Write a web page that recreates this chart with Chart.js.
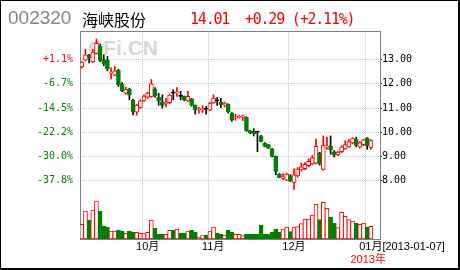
<!DOCTYPE html>
<html>
<head>
<meta charset="utf-8">
<script src="https://cdn.jsdelivr.net/npm/chart.js@4/dist/chart.umd.min.js"></script>
<style>
  html, body { margin: 0; padding: 0; background: #fff; }
  #wrap { position: relative; width: 460px; height: 270px; overflow: hidden; }
  #chart { position: absolute; left: 0; top: 0; }
  #frame { position: absolute; left: 0; top: 0; width: 460px; height: 270px; box-sizing: border-box;
           border-style: solid; border-color: #000; border-width: 1px 2px 2px 1px; pointer-events: none; }
  .txt { position: absolute; white-space: pre; line-height: 1; }
  #code { left: 8px; top: 8px; font-size: 19px; font-family: 'Liberation Sans', Arial, sans-serif; color: #7d8590; }
  #name { left: 82px; top: 11px; font-size: 16px; font-family: 'Noto Sans CJK SC', sans-serif; color: #000; }
  #quote { left: 190px; top: 12px; font-size: 15px; font-family: 'DejaVu Sans Mono', monospace; letter-spacing: -1.2px; color: #f00; }
  #mark { left: 88px; top: 37px; font-weight: bold; font-size: 21px; font-family: 'Liberation Sans', Arial, sans-serif; color: #d6d6d6; }
</style>
</head>
<body>
<div id="wrap">
  <div id="mark" class="txt">CFi.CN</div>
  <canvas id="chart" width="460" height="270"></canvas>
  <div id="code" class="txt"></div>
  <div id="name" class="txt"></div>
  <div id="quote" class="txt"></div>
  <div id="frame"></div>
</div>
<script>
// quote header
const stockCode = '002320';
const stockName = '海峡股份';
const lastPrice = '14.01';
const change = '+0.29';
const changePct = '+2.11%';

// trading days shown on the chart
const dates = [
  '2012-09-06', '2012-09-07', '2012-09-10', '2012-09-11', '2012-09-12', '2012-09-13', '2012-09-14',
  '2012-09-17', '2012-09-18', '2012-09-19', '2012-09-20', '2012-09-21', '2012-09-24', '2012-09-25',
  '2012-09-26', '2012-09-27', '2012-09-28',
  '2012-10-08', '2012-10-09', '2012-10-10', '2012-10-11', '2012-10-12', '2012-10-15', '2012-10-16',
  '2012-10-17', '2012-10-18', '2012-10-19', '2012-10-22', '2012-10-23', '2012-10-24', '2012-10-25',
  '2012-10-26', '2012-10-29', '2012-10-30', '2012-10-31',
  '2012-11-01', '2012-11-02', '2012-11-05', '2012-11-06', '2012-11-07', '2012-11-08', '2012-11-09',
  '2012-11-12', '2012-11-13', '2012-11-14', '2012-11-15', '2012-11-16', '2012-11-19', '2012-11-20',
  '2012-11-21', '2012-11-22', '2012-11-23', '2012-11-26', '2012-11-27', '2012-11-28', '2012-11-29',
  '2012-11-30',
  '2012-12-03', '2012-12-04', '2012-12-05', '2012-12-06', '2012-12-07', '2012-12-10', '2012-12-11',
  '2012-12-12', '2012-12-13', '2012-12-14', '2012-12-17', '2012-12-18', '2012-12-19', '2012-12-20',
  '2012-12-21', '2012-12-24', '2012-12-25', '2012-12-26', '2012-12-27', '2012-12-28', '2012-12-31',
  '2013-01-04', '2013-01-07'
];

const open = [
  12.70, 12.98, 13.19, 12.90, 13.26, 13.55, 13.00, 12.97, 12.45, 12.36,
  12.57, 11.98, 11.62, 11.78, 11.32, 10.83, 11.03, 11.30, 11.45, 11.47,
  11.77, 11.44, 11.26, 11.19, 11.22, 11.62, 11.63, 11.48, 11.48, 11.30,
  11.38, 11.11, 10.92, 10.94, 10.96, 10.91, 11.21, 11.30, 11.25, 11.13,
  11.16, 10.79, 10.60, 10.62, 10.63, 10.62, 10.06, 10.04, 10.01, 9.86,
  9.56, 9.49, 9.32, 9.01, 8.28, 8.10, 8.03, 8.20, 7.93, 8.20,
  8.45, 8.50, 8.62, 8.70, 8.73, 9.14, 8.47, 9.40, 9.43, 9.20,
  9.07, 9.20, 9.32, 9.40, 9.56, 9.72, 9.39, 9.49, 9.76, 9.38
];
const high = [
  12.92, 13.43, 13.22, 13.43, 13.85, 13.62, 13.20, 13.13, 12.66, 12.72,
  12.60, 12.05, 11.86, 11.82, 11.36, 11.15, 11.35, 11.55, 11.66, 12.18,
  11.85, 11.61, 11.55, 11.40, 11.58, 11.76, 11.85, 11.69, 11.50, 11.69,
  11.40, 11.13, 11.03, 11.10, 11.07, 11.24, 11.55, 11.44, 11.40, 11.25,
  11.18, 10.82, 10.75, 10.70, 10.72, 10.64, 10.08, 10.15, 10.05, 9.88,
  9.58, 9.50, 9.34, 9.03, 8.30, 8.30, 8.32, 8.25, 8.50, 8.55,
  8.74, 8.75, 8.90, 9.05, 9.72, 9.18, 9.85, 9.79, 9.85, 9.25,
  9.22, 9.45, 9.65, 9.70, 9.78, 9.80, 9.62, 9.72, 9.78, 9.70
];
const low = [
  12.65, 12.94, 12.86, 12.88, 13.24, 12.92, 12.75, 12.54, 12.20, 12.33,
  11.89, 11.68, 11.57, 11.34, 10.72, 10.71, 10.98, 11.28, 11.40, 11.45,
  11.45, 11.12, 11.00, 11.05, 11.18, 11.34, 11.48, 11.34, 11.30, 11.28,
  11.08, 10.75, 10.79, 10.82, 10.75, 10.89, 11.19, 11.11, 11.02, 11.05,
  10.80, 10.46, 10.50, 10.58, 10.48, 10.04, 9.95, 9.85, 9.20, 9.60,
  9.40, 9.33, 8.99, 8.25, 8.12, 8.05, 8.00, 7.96, 7.65, 8.15,
  8.40, 8.45, 8.58, 8.66, 8.70, 8.65, 8.44, 9.30, 9.10, 8.98,
  9.04, 9.15, 9.30, 9.38, 9.52, 9.40, 9.35, 9.45, 9.30, 9.30
];
const close = [
  12.90, 13.20, 13.09, 13.31, 13.67, 12.97, 12.82, 12.62, 12.50, 12.54,
  11.96, 11.72, 11.76, 11.55, 10.84, 11.11, 11.30, 11.50, 11.62, 12.00,
  11.50, 11.30, 11.11, 11.24, 11.54, 11.62, 11.66, 11.48, 11.34, 11.48,
  11.11, 10.93, 10.94, 10.97, 10.96, 11.21, 11.41, 11.30, 11.14, 11.20,
  10.84, 10.50, 10.63, 10.66, 10.68, 10.06, 9.97, 9.93, 10.01, 9.63,
  9.42, 9.35, 9.01, 8.39, 8.14, 8.16, 8.28, 8.00, 8.25, 8.48,
  8.58, 8.68, 8.80, 8.95, 9.42, 8.69, 9.45, 9.44, 9.28, 9.07,
  9.19, 9.40, 9.49, 9.62, 9.74, 9.46, 9.57, 9.69, 9.45, 9.66
];
// volume, relative units
const volume = [
  14.7, 28, 19, 29, 38, 28, 13, 12, 8, 8,
  9, 8, 5.7, 8, 7, 6.7, 5.7, 6, 6.7, 19,
  10.7, 4.7, 4.7, 4.7, 8.7, 8.7, 10, 6, 6, 8,
  8.7, 6.7, 2, 3.3, 4, 8, 12, 6, 4.7, 4,
  9, 6.7, 4.7, 4.7, 3.3, 4.7, 4.7, 4.7, 4.7, 14,
  4.7, 4.7, 6.7, 10, 6.7, 10, 12, 7.3, 12, 12.3,
  15.3, 20, 20, 24, 34.7, 19.3, 36.7, 30.7, 22, 16,
  11.3, 26.7, 22.7, 19.3, 18, 16, 14.7, 16, 12, 12.7
];

const priceTicks = [8, 9, 10, 11, 12, 13];
const basePrice = 12.86;   // reference price for the % scale
const priceMin = 5.6;
const priceMax = 14.18;
const volumeMax = 208;     // volume panel sits at the foot of the price panel
const emptySlots = 2;

const RED = '#ff0000';
const GREEN = '#008000';
const BLACK = '#000000';
const GRID = '#c8c8c8';
const FRAME = '#808080';
const SANS = "'Liberation Sans', 'Noto Sans CJK SC', sans-serif";
const MONO = "'DejaVu Sans Mono', monospace";

document.getElementById('code').textContent = stockCode;
document.getElementById('name').textContent = stockName;
document.getElementById('quote').textContent = lastPrice + '  ' + change + ' (' + changePct + ')';

const labels = dates.concat(Array(emptySlots).fill(''));
const dir = close.map((c, i) => Math.sign(c - open[i]));

const monthStarts = dates
    .map((d, i) => (i > 0 && d.slice(5, 7) !== dates[i - 1].slice(5, 7)) ? i : -1)
    .filter(i => i >= 0);
const yearStart = dates.findIndex((d, i) => i > 0 && d.slice(0, 4) !== dates[i - 1].slice(0, 4));
const lastDate = dates[dates.length - 1];

const monthLabel = (i) => {
    const m = dates[i].slice(5, 7) + '月';
    return i === monthStarts[monthStarts.length - 1] ? m + '[' + lastDate + ']' : m;
};
const pct = (v) => {
    const p = (v / basePrice - 1) * 100;
    return (p >= 0 ? '+' : '') + p.toFixed(1) + '%';
};
const fixWidth = (w) => (axis) => { axis.width = w; };
const fixHeight = (h) => (axis) => { axis.height = h; };
const setPriceTicks = (axis) => { axis.ticks = priceTicks.map(v => ({value: v})); };

new Chart(document.getElementById('chart').getContext('2d'), {
    type: 'bar',
    data: {
        labels: labels,
        datasets: [
            {
                label: 'body',
                data: open.map((o, i) => [o, close[i]]),
                xAxisID: 'x',
                yAxisID: 'y',
                grouped: false,
                barThickness: 4,
                minBarLength: 1,
                borderWidth: 1,
                borderSkipped: false,
                backgroundColor: dir.map(d => d > 0 ? '#ffffff' : (d < 0 ? GREEN : BLACK)),
                borderColor: dir.map(d => d > 0 ? RED : (d < 0 ? GREEN : BLACK)),
                order: 0
            },
            {
                label: 'wick',
                data: low.map((l, i) => [l, high[i]]),
                xAxisID: 'x',
                yAxisID: 'y',
                grouped: false,
                barThickness: 1,
                borderWidth: 0,
                backgroundColor: dir.map(d => d > 0 ? RED : BLACK),
                order: 1
            },
            {
                label: 'volume',
                data: volume,
                xAxisID: 'x',
                yAxisID: 'yVol',
                grouped: false,
                barThickness: 4,
                borderWidth: 1,
                borderSkipped: false,
                backgroundColor: dir.map(d => d > 0 ? '#ffffff' : GREEN),
                borderColor: dir.map(d => d > 0 ? RED : GREEN),
                order: 2
            }
        ]
    },
    options: {
        responsive: false,
        devicePixelRatio: 1,
        animation: false,
        events: [],
        layout: {padding: {top: 31, left: 0, right: 0, bottom: 0}},
        plugins: {legend: {display: false}, tooltip: {enabled: false}},
        scales: {
            x: {
                type: 'category',
                position: 'bottom',
                offset: true,
                weight: 0,
                grid: {
                    offset: true,
                    drawTicks: false,
                    color: (ctx) => monthStarts.includes(ctx.index) ? GRID : 'transparent'
                },
                border: {color: FRAME, dash: [1, 1]},
                ticks: {
                    autoSkip: false,
                    maxRotation: 0,
                    align: 'start',
                    labelOffset: -8,
                    padding: 1,
                    color: BLACK,
                    font: {size: 11, family: SANS},
                    callback: (v, i) => monthStarts.includes(i) ? monthLabel(i) : ''
                },
                afterFit: fixHeight(14)
            },
            x2: {
                type: 'category',
                position: 'bottom',
                offset: true,
                weight: 1,
                grid: {display: false, drawTicks: false},
                border: {display: false},
                ticks: {
                    autoSkip: false,
                    maxRotation: 0,
                    padding: 0,
                    labelOffset: 1,
                    color: RED,
                    font: {size: 11, family: SANS},
                    callback: (v, i) => i === yearStart ? dates[i].slice(0, 4) + '年' : ''
                },
                afterFit: fixHeight(17)
            },
            xTop: {
                type: 'category',
                position: 'top',
                offset: true,
                grid: {display: false, drawTicks: false},
                border: {color: FRAME, dash: [1, 1]},
                ticks: {display: false},
                afterFit: fixHeight(0)
            },
            y: {
                position: 'right',
                min: priceMin,
                max: priceMax,
                afterBuildTicks: setPriceTicks,
                grid: {color: GRID, tickColor: BLACK, tickLength: 2},
                border: {color: FRAME, dash: [1, 1]},
                ticks: {
                    padding: 0,
                    color: BLACK,
                    font: {size: 10, family: MONO},
                    callback: v => v.toFixed(2)
                },
                afterFit: fixWidth(80)
            },
            yL: {
                position: 'left',
                min: priceMin,
                max: priceMax,
                afterBuildTicks: setPriceTicks,
                grid: {display: false, drawTicks: false},
                border: {color: FRAME, dash: [1, 1]},
                ticks: {
                    padding: 7,
                    font: {size: 10, family: MONO},
                    color: (ctx) => ctx.tick.value >= basePrice ? RED : GREEN,
                    callback: v => pct(v)
                },
                afterFit: fixWidth(80)
            },
            yVol: {
                display: false,
                position: 'right',
                min: 0,
                max: volumeMax
            }
        }
    }
});
</script>
</body>
</html>
